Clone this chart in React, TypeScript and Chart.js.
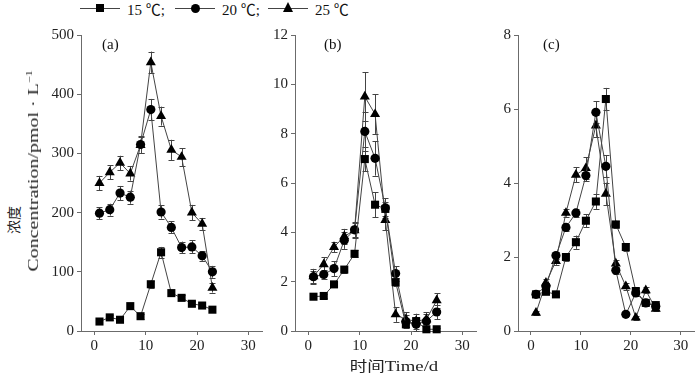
import React, { useEffect, useRef } from "react";
import { Chart, registerables } from "chart.js";
Chart.register(...registerables);

const xA = [1, 3, 5, 7, 9, 11, 13, 15, 17, 19, 21, 23];
const xBC = [1, 3, 5, 7, 9, 11, 13, 15, 17, 19, 21, 23, 25];

const a15 = [16, 23, 19, 42, 25, 79, 133, 64, 56, 46, 43, 36];
const a20 = [199, 205, 233, 226, 315, 374, 201, 175, 141, 142, 127, 100];
const a25 = [250, 268, 284, 266, 314, 454, 363, 306, 294, 200, 181, 73];
const a15e = [3, 4, 3, 4, 4, 6, 9, 5, 4, 4, 4, 3];
const a20e = [10, 10, 12, 11, 14, 18, 11, 10, 10, 11, 8, 10];
const a25e = [12, 12, 12, 12, 14, 18, 16, 17, 15, 13, 10, 8];

const b15 = [1.39, 1.42, 1.89, 2.49, 3.13, 6.97, 5.12, 4.95, 1.98, 0.27, 0.4, 0.07, 0.07];
const b20 = [2.2, 2.29, 2.53, 3.68, 4.1, 8.09, 7.0, 4.99, 2.33, 0.38, 0.27, 0.4, 0.77];
const b25 = [2.22, 2.7, 3.4, 3.84, 4.08, 9.5, 8.79, 4.5, 0.67, 0.47, 0.4, 0.47, 1.24];
const b15e = [0.08, 0.08, 0.1, 0.12, 0.15, 0.5, 0.5, 0.3, 0.15, 0.1, 0.1, 0.05, 0.05];
const b20e = [0.25, 0.2, 0.3, 0.35, 0.3, 0.8, 0.7, 0.4, 0.3, 0.25, 0.3, 0.3, 0.3];
const b25e = [0.3, 0.3, 0.2, 0.3, 0.3, 1.0, 0.8, 0.4, 0.3, 0.3, 0.3, 0.3, 0.3];

const c15 = [0.99, 1.06, 0.99, 2.0, 2.4, 2.98, 3.5, 6.27, 2.88, 2.27, 1.08, 0.76, 0.7];
const c20 = [0.99, 1.21, 2.04, 2.8, 3.19, 4.2, 5.91, 4.45, 1.64, 0.45, 1.03, 0.76, 0.67];
const c25 = [0.49, 1.3, 1.89, 3.19, 4.22, 4.4, 5.55, 3.71, 1.82, 1.21, 0.36, 1.1, 0.6];
const c15e = [0.05, 0.05, 0.05, 0.1, 0.18, 0.18, 0.2, 0.3, 0.1, 0.1, 0.08, 0.06, 0.06];
const c20e = [0.05, 0.1, 0.1, 0.1, 0.1, 0.15, 0.3, 0.3, 0.1, 0.05, 0.08, 0.06, 0.06];
const c25e = [0.05, 0.1, 0.1, 0.1, 0.2, 0.3, 0.3, 0.3, 0.1, 0.1, 0.05, 0.08, 0.05];

const xTicks = [0, 10, 20, 30];
const seriesNames = ["15 ℃", "20 ℃", "25 ℃"];
const pointStyles = ["rect", "circle", "triangle"];
const pointSizes = [5.7, 4.6, 5.8];

const FONT = "'Liberation Serif', 'Times New Roman', 'Noto Sans CJK SC', serif";
const AXIS = "#6b6b6b";
const INK = "#000";
const LINE = "#444";

const errorBars = {
  id: "errorBars",
  beforeDatasetsDraw(chart: any) {
    const ctx = chart.ctx;
    const ys = chart.scales.y;
    chart.data.datasets.forEach((ds: any, i: number) => {
      const meta = chart.getDatasetMeta(i);
      ctx.save();
      ctx.strokeStyle = "#444";
      ctx.lineWidth = 1;
      meta.data.forEach((pt: any, j: number) => {
        const v = ds.data[j].y;
        const e = ds.errors[j];
        const top = ys.getPixelForValue(v + e);
        const bot = ys.getPixelForValue(Math.max(0, v - e));
        const x = Math.round(pt.x) + 0.5;
        ctx.beginPath();
        ctx.moveTo(x, top);
        ctx.lineTo(x, bot);
        ctx.moveTo(x - 3, Math.round(top) + 0.5);
        ctx.lineTo(x + 3, Math.round(top) + 0.5);
        ctx.moveTo(x - 3, Math.round(bot) + 0.5);
        ctx.lineTo(x + 3, Math.round(bot) + 0.5);
        ctx.stroke();
      });
      ctx.restore();
    });
  },
};

function Panel(props: {
  xs: number[];
  series: number[][];
  errs: number[][];
  yMax: number;
  yStep: number;
  left: number;
  width: number;
}) {
  const ref = useRef<HTMLCanvasElement | null>(null);
  useEffect(() => {
    if (!ref.current) return;
    const datasets = props.series.map((vals, k) => ({
      label: seriesNames[k],
      data: vals.map((v, j) => ({ x: props.xs[j], y: v })),
      errors: props.errs[k],
      borderColor: LINE,
      borderWidth: 1,
      backgroundColor: INK,
      pointBackgroundColor: INK,
      pointBorderColor: INK,
      pointStyle: pointStyles[k],
      pointRadius: pointSizes[k],
      pointBorderWidth: 0,
      tension: 0,
      clip: false as any,
    }));
    const chart = new Chart(ref.current, {
      type: "line",
      data: { datasets } as any,
      plugins: [errorBars],
      options: {
        animation: false,
        responsive: false,
        maintainAspectRatio: false,
        events: [],
        layout: { padding: { top: 15, right: 4, left: 0, bottom: 0 } },
        plugins: { legend: { display: false }, tooltip: { enabled: false } },
        scales: {
          x: {
            type: "linear",
            min: -2.6,
            max: 32.7,
            afterBuildTicks: (s: any) => {
              s.ticks = xTicks.map((v) => ({ value: v }));
            },
            afterFit: (s: any) => {
              s.height = 25;
            },
            grid: {
              display: true,
              drawOnChartArea: false,
              drawTicks: true,
              tickLength: 4,
              color: AXIS,
            },
            border: { display: true, color: AXIS, width: 1 },
            ticks: {
              color: "#222",
              font: { family: FONT, size: 15 },
              padding: 2,
              maxRotation: 0,
            },
          },
          y: {
            type: "linear",
            min: 0,
            max: props.yMax,
            afterFit: (s: any) => {
              s.width = 40;
            },
            grid: {
              display: true,
              drawOnChartArea: false,
              drawTicks: true,
              tickLength: 4,
              color: AXIS,
            },
            border: { display: true, color: AXIS, width: 1 },
            ticks: {
              stepSize: props.yStep,
              color: "#222",
              font: { family: FONT, size: 15 },
              padding: 3,
            },
          },
        },
      } as any,
    });
    return () => chart.destroy();
  }, []);
  return (
    <canvas
      ref={ref}
      width={props.width}
      height={336}
      style={{ position: "absolute", left: props.left, top: 20, width: props.width, height: 336 }}
    />
  );
}

function LegendItem(props: { kind: number; label: string; left: number }) {
  const marker: any =
    props.kind === 0
      ? { width: 8, height: 8, background: "#000", left: 16, top: 4 }
      : props.kind === 1
      ? { width: 9, height: 9, background: "#000", borderRadius: "50%", left: 15.5, top: 3.5 }
      : {
          width: 0,
          height: 0,
          borderLeft: "5.5px solid transparent",
          borderRight: "5.5px solid transparent",
          borderBottom: "10px solid #000",
          left: 15,
          top: 2,
        };
  return (
    <div style={{ position: "absolute", left: props.left, top: 0, height: 16, whiteSpace: "nowrap" }}>
      <div style={{ position: "absolute", left: 0, top: 7.5, width: 40, height: 1, background: LINE }} />
      <div style={{ position: "absolute", ...marker }} />
      <span style={{ position: "absolute", left: 47, top: -2, fontFamily: FONT, fontSize: 15, color: "#111" }}>
        {props.label}
      </span>
    </div>
  );
}

export default function App() {
  return (
    <div
      style={{
        position: "fixed",
        left: 0,
        top: 0,
        width: 700,
        height: 375,
        background: "#fff",
        overflow: "hidden",
        fontFamily: FONT,
      }}
    >
      <LegendItem kind={0} label={seriesNames[0] + ";"} left={80} />
      <LegendItem kind={1} label={seriesNames[1] + ";"} left={175} />
      <LegendItem kind={2} label={seriesNames[2]} left={268} />

      <Panel xs={xA} series={[a15, a20, a25]} errs={[a15e, a20e, a25e]} yMax={500} yStep={100} left={41} width={227} />
      <Panel xs={xBC} series={[b15, b20, b25]} errs={[b15e, b20e, b25e]} yMax={12} yStep={2} left={255} width={227} />
      <Panel xs={xBC} series={[c15, c20, c25]} errs={[c15e, c20e, c25e]} yMax={8} yStep={2} left={478} width={222} />

      <div style={{ position: "absolute", left: 102, top: 36, fontSize: 15, fontFamily: FONT, color: "#111" }}>(a)</div>
      <div style={{ position: "absolute", left: 324, top: 36, fontSize: 15, fontFamily: FONT, color: "#111" }}>(b)</div>
      <div style={{ position: "absolute", left: 543, top: 36, fontSize: 15, fontFamily: FONT, color: "#111" }}>(c)</div>

      <div
        style={{
          position: "absolute",
          left: 13,
          top: 220,
          transform: "translate(-50%, -50%) rotate(-90deg)",
          whiteSpace: "nowrap",
          fontSize: 14,
          fontFamily: "'Noto Sans CJK SC', sans-serif",
          color: "#222",
        }}
      >
        浓度
      </div>
      <div
        style={{
          position: "absolute",
          left: 33,
          top: 171,
          transform: "translate(-50%, -50%) rotate(-90deg) scaleX(1.33)",
          whiteSpace: "nowrap",
          fontSize: 15,
          fontFamily: FONT,
          color: "#222",
        }}
      >
        Concentration/pmol · L<sup style={{ fontSize: 9 }}>−1</sup>
      </div>
      <div
        style={{
          position: "absolute",
          left: 394,
          top: 365,
          transform: "translate(-50%, -50%) scaleX(1.25)",
          whiteSpace: "nowrap",
          fontSize: 15,
          fontFamily: FONT,
          color: "#222",
        }}
      >
        <span style={{ fontFamily: "'Noto Sans CJK SC', sans-serif", fontSize: 14 }}>时间</span>Time/d
      </div>
    </div>
  );
}
